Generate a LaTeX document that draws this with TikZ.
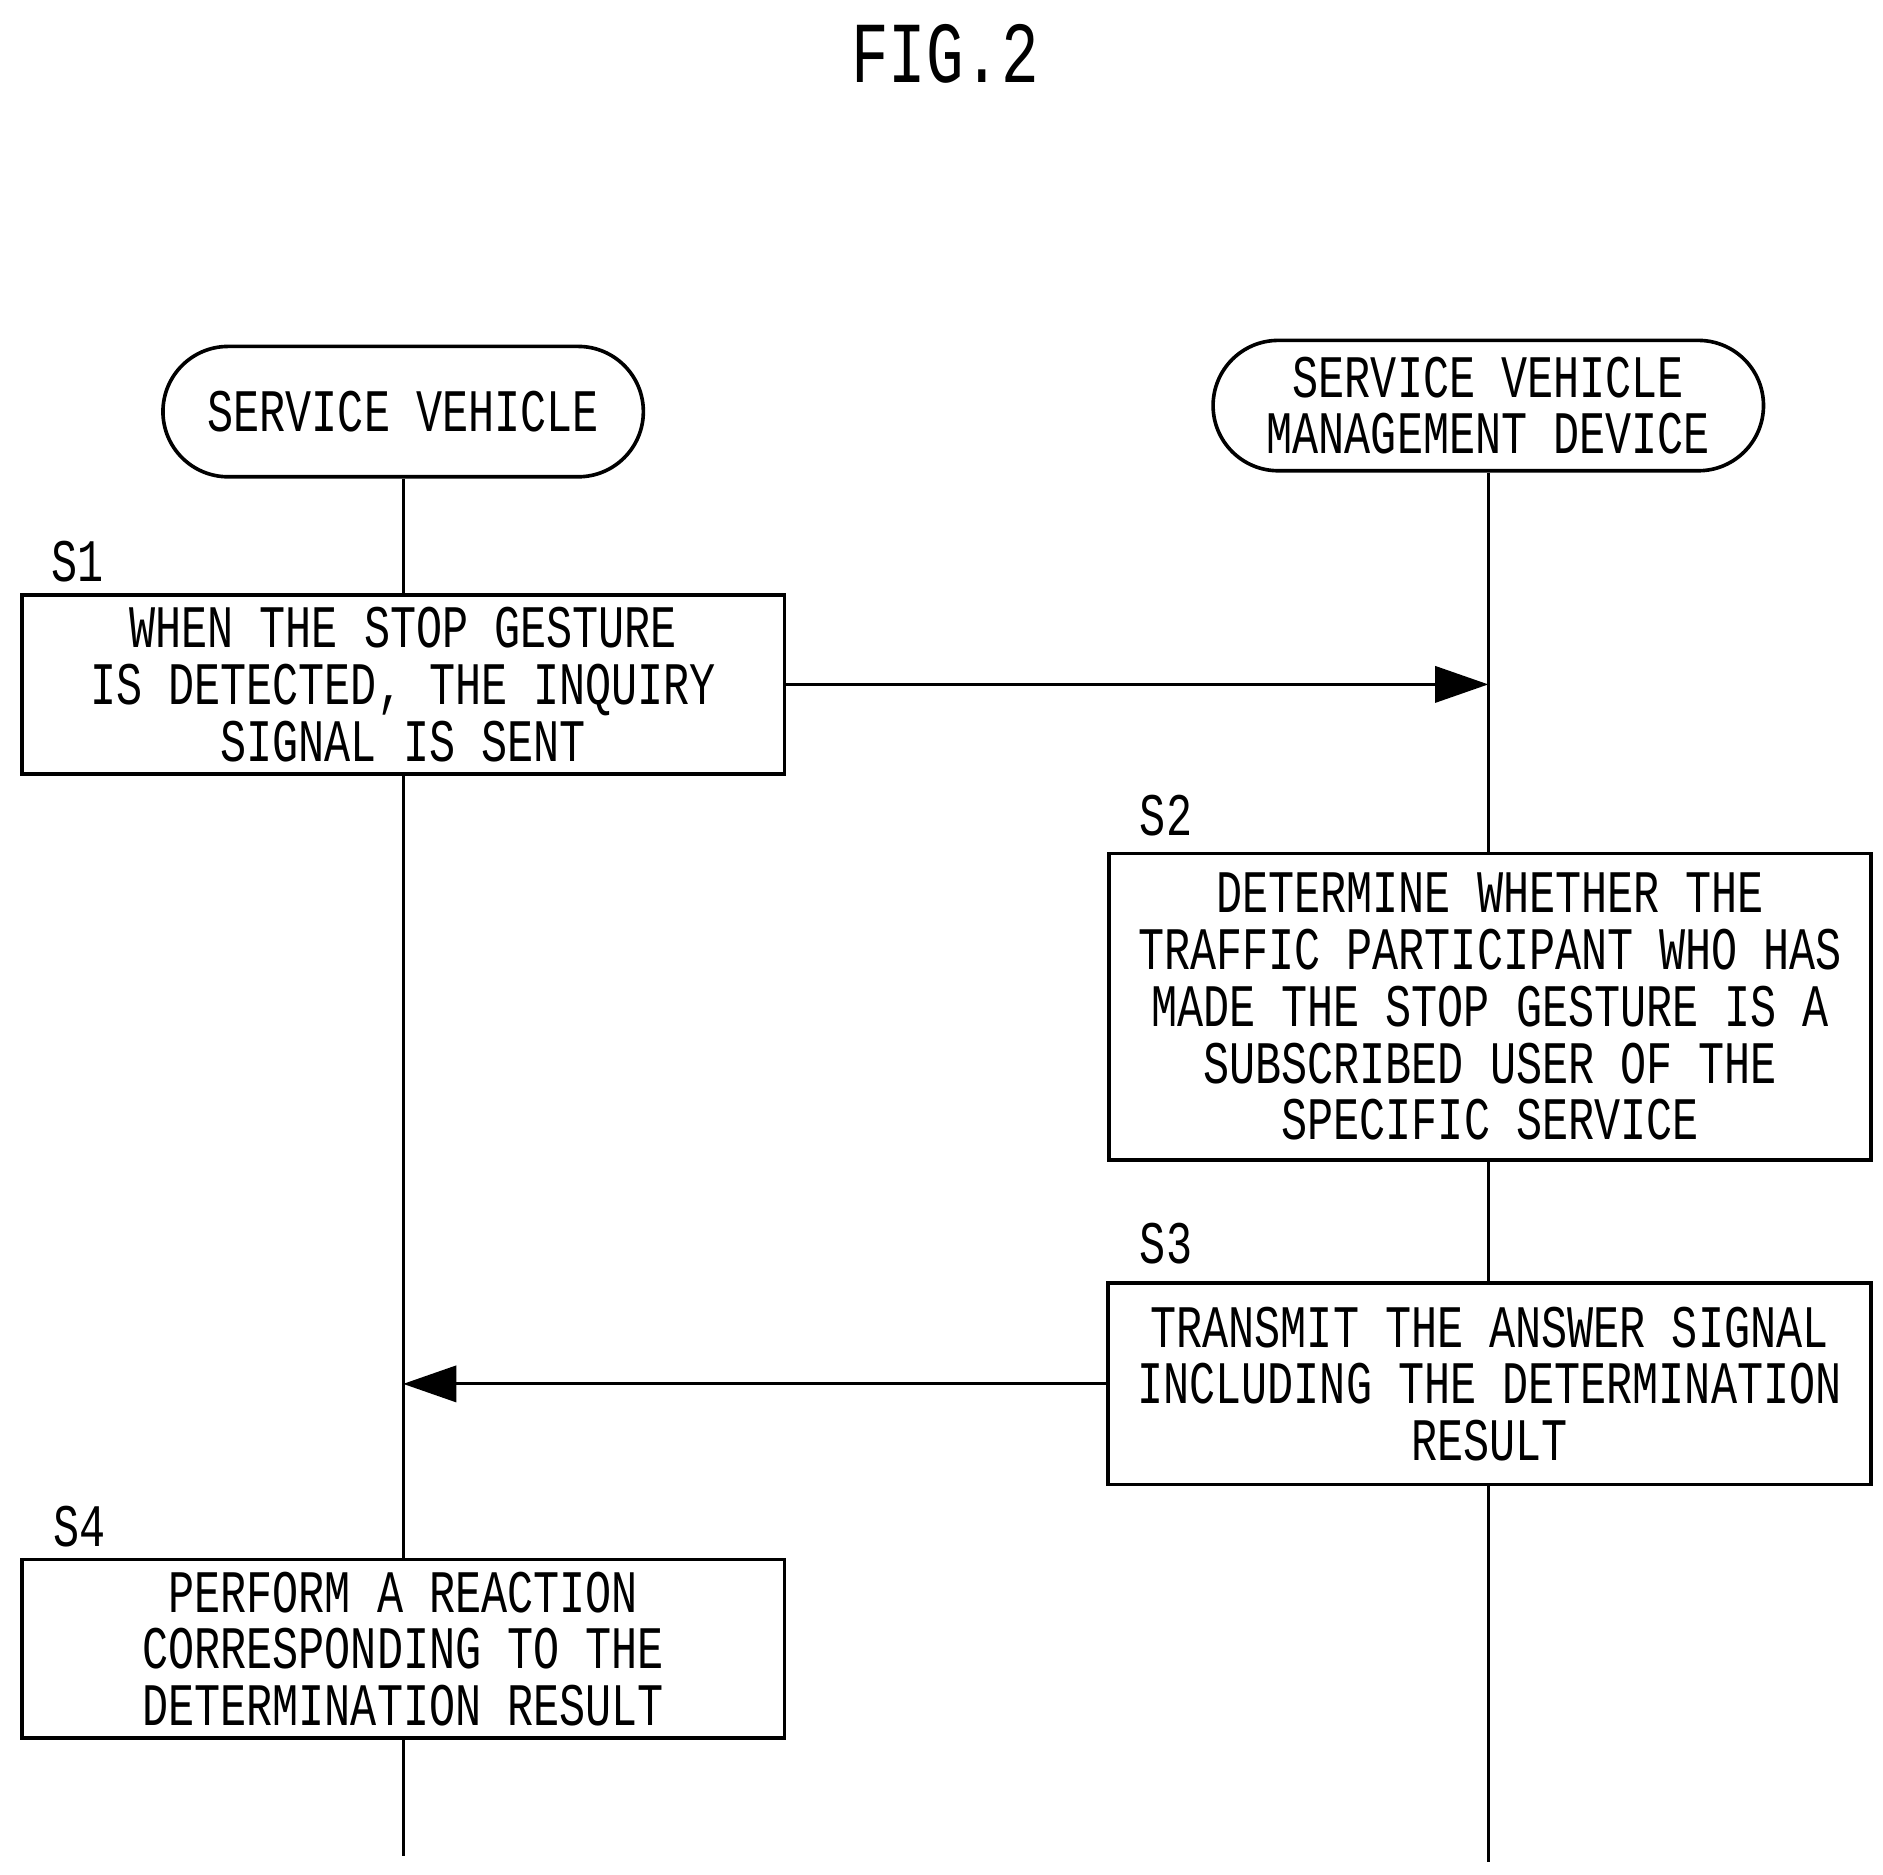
\documentclass[tikz,border=0pt]{standalone}
\usepackage{fontspec}
\setmainfont{Liberation Mono}[FakeStretch=0.72]
\usetikzlibrary{arrows.meta}
\begin{document}
\begin{tikzpicture}[x=0.5pt,y=-0.5pt,
  box/.style={draw,line width=1.5pt,inner sep=0pt,font=\fontsize{25}{23.5}\selectfont,align=center},
  pill/.style={draw,line width=1.5pt,rounded corners=27pt,inner sep=0pt,font=\fontsize{25}{23.5}\selectfont,align=center},
  lbl/.style={font=\fontsize{25}{25}\selectfont},
  life/.style={line width=1.2pt},
  msg/.style={line width=1.2pt,-{Triangle[length=22pt,width=15pt]}}]
\useasboundingbox (0,0) rectangle (1560,1553);
\node[font=\fontsize{36}{36}\selectfont] (title) at (783,45) {FIG.2};
\node[pill,minimum width=199pt,minimum height=54pt] (sv) at (334,341) {SERVICE VEHICLE};
\node[pill,minimum width=228pt,minimum height=54pt] (md) at (1233,336) {SERVICE VEHICLE\\MANAGEMENT DEVICE};
\coordinate (le) at (334,1538);
\coordinate (re) at (1233,1543);
\node[box,minimum width=316pt,minimum height=74pt] (s1) at (334,567) {WHEN THE STOP GESTURE\\IS DETECTED, THE INQUIRY\\SIGNAL IS SENT};
\node[box,minimum width=315.5pt,minimum height=127pt] (s2) at (1234.5,834) {DETERMINE WHETHER THE\\TRAFFIC PARTICIPANT WHO HAS\\MADE THE STOP GESTURE IS A\\SUBSCRIBED USER OF THE\\SPECIFIC SERVICE};
\node[box,minimum width=316pt,minimum height=83.5pt] (s3) at (1234,1146.5) {TRANSMIT THE ANSWER SIGNAL\\INCLUDING THE DETERMINATION\\RESULT};
\node[box,minimum width=316pt,minimum height=74pt] (s4) at (334,1366) {PERFORM A REACTION\\CORRESPONDING TO THE\\DETERMINATION RESULT};
\node[lbl] (l1) at (64,465) {S1};
\node[lbl] (l2) at (966,676) {S2};
\node[lbl] (l3) at (966,1030) {S3};
\node[lbl] (l4) at (66,1265) {S4};
\draw[life] (sv.south) -- (s1.north);
\draw[life] (s1.south) -- (s4.north);
\draw[life] (s4.south) -- (le);
\draw[life] (md.south) -- (s2.north -| md.south);
\draw[life] (s2.south -| md.south) -- (s3.north -| md.south);
\draw[life] (s3.south -| md.south) -- (re);
\draw[msg] (s1.east) -- (s1.east -| md.south);
\draw[msg] (s3.west) -- (s3.west -| sv.south);
\end{tikzpicture}
\end{document}
